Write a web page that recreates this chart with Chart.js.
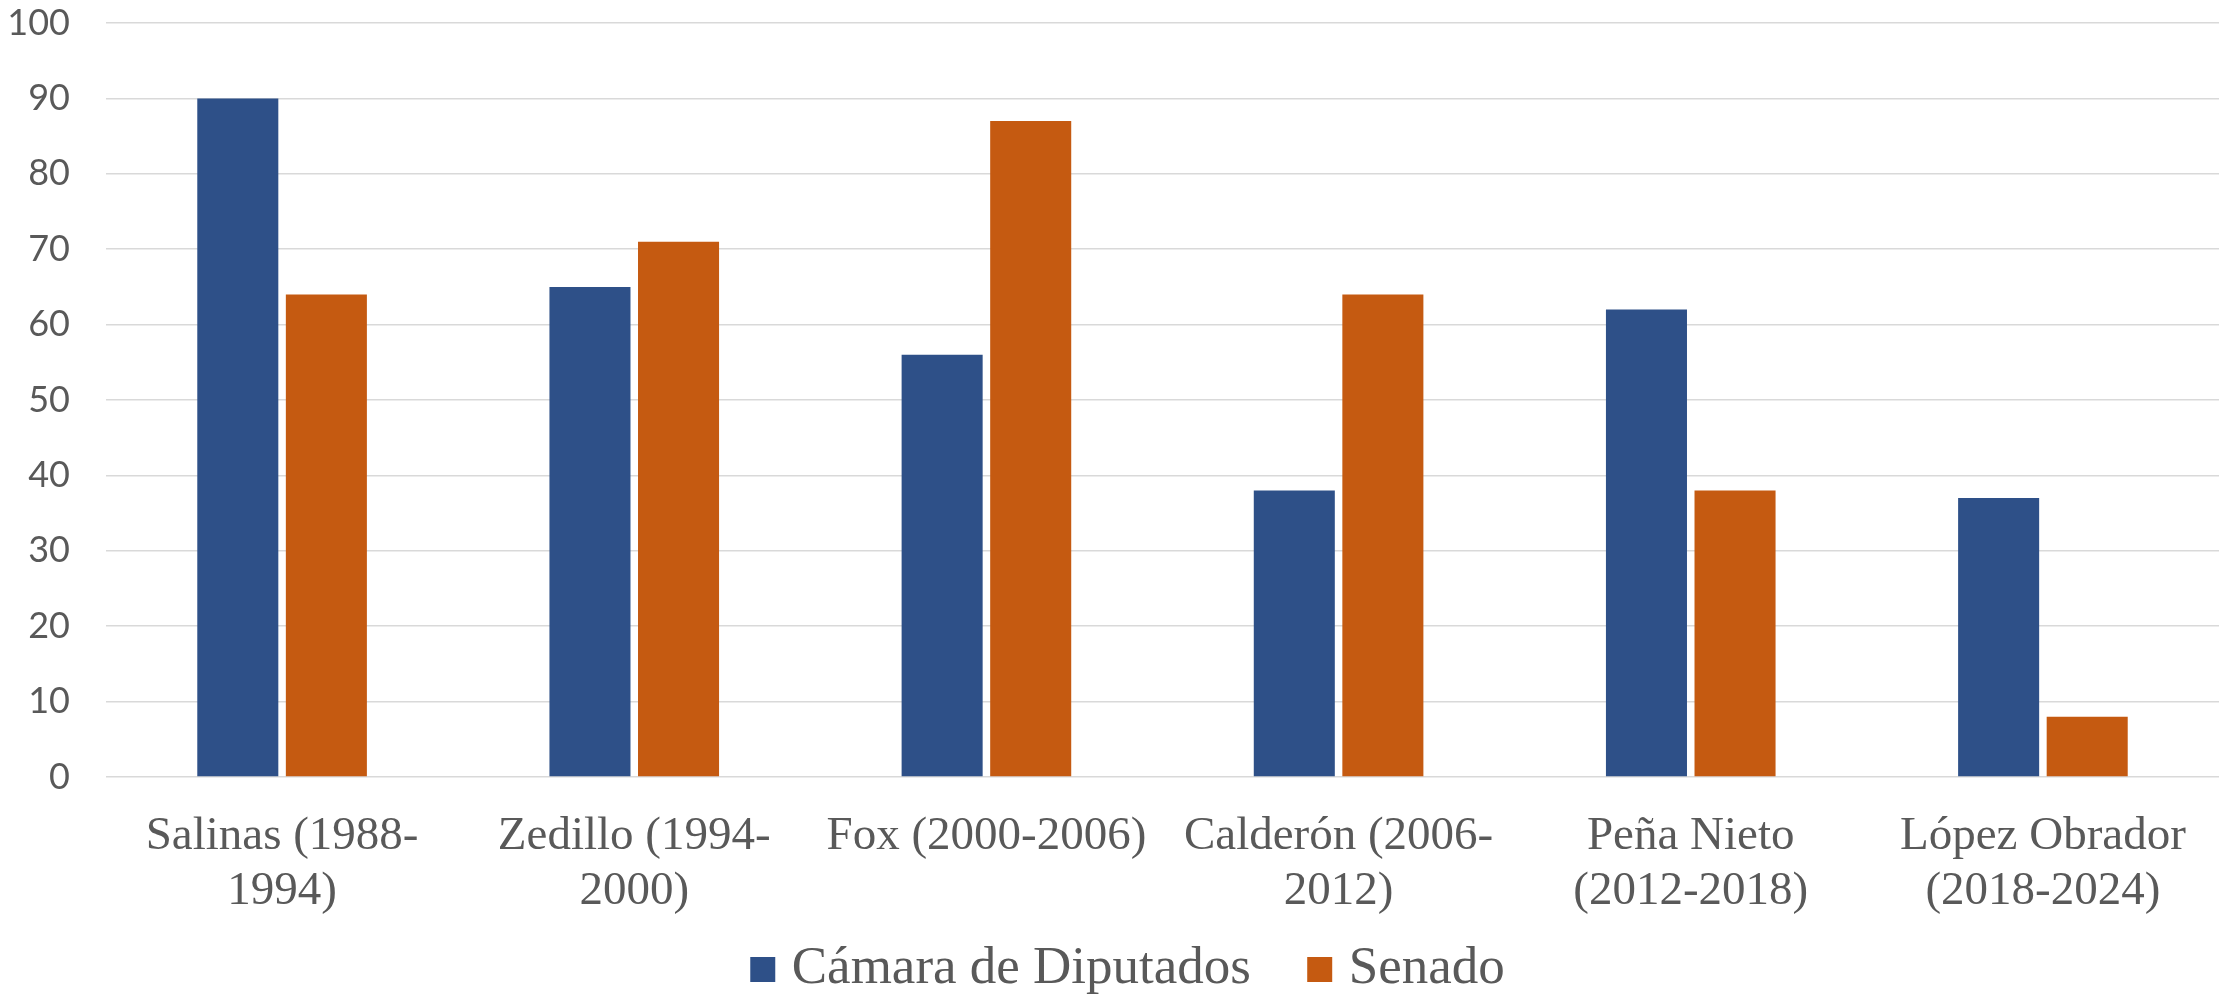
<!DOCTYPE html>
<html>
<head>
<meta charset="utf-8">
<script src="https://cdn.jsdelivr.net/npm/chart.js@4.4.0/dist/chart.umd.min.js"></script>
<style>
  html, body { margin: 0; padding: 0; background: #ffffff; }
  #wrap { width: 2223px; height: 994px; }
</style>
</head>
<body>
<div id="wrap"><canvas id="chart"></canvas></div>
<script>
// Data
const periods = [
    ['Salinas (1988-', '1994)'],
    ['Zedillo (1994-', '2000)'],
    'Fox (2000-2006)',
    ['Calderón (2006-', '2012)'],
    ['Peña Nieto', '(2012-2018)'],
    ['López Obrador', '(2018-2024)']
];
const seriesNames = ['Cámara de Diputados', 'Senado'];
const diputados = [90, 65, 56, 38, 62, 37];
const senado = [64, 71, 87, 64, 38, 8];
const yTicks = [0, 10, 20, 30, 40, 50, 60, 70, 80, 90, 100];

const textGray = '#595959';
const serif = "'Liberation Serif', 'Times New Roman', serif";

// legend sits a little right of the canvas centre in the original
const legendShift = {
    id: 'legendShift',
    afterLayout(chart) {
        chart.legend.left += 18;
        chart.legend.right += 18;
    }
};

const ctx = document.getElementById('chart').getContext('2d');
const chart = new Chart(ctx, {
    type: 'bar',
    data: {
        labels: periods,
        datasets: [{
            label: seriesNames[0],
            data: diputados,
            backgroundColor: '#2E5088',
            borderWidth: 0
        }, {
            label: seriesNames[1],
            data: senado,
            backgroundColor: '#C55A11',
            borderWidth: 0
        }]
    },
    plugins: [legendShift],
    options: {
        responsive: true,
        maintainAspectRatio: false,
        animation: false,
        categoryPercentage: 0.503,
        barPercentage: 0.915,
        layout: {
            padding: { top: 23, right: 4, left: 10, bottom: -12 }
        },
        plugins: {
            tooltip: { enabled: false },
            legend: {
                position: 'bottom',
                labels: {
                    color: textGray,
                    font: { family: serif, size: 53 },
                    usePointStyle: true,
                    pointStyle: 'rect',
                    boxWidth: 5,
                    boxHeight: 25,
                    padding: 0,
                    generateLabels: function(chart) {
                        const items = Chart.defaults.plugins.legend.labels.generateLabels(chart);
                        // keep a gap between the two entries like the original
                        items.forEach((item, i) => {
                            item.lineWidth = 0;
                            if (i < items.length - 1) item.text = item.text + '     ';
                        });
                        return items;
                    }
                }
            }
        },
        scales: {
            x: {
                grid: { display: false },
                border: { display: false },
                ticks: {
                    color: textGray,
                    font: { family: serif, size: 47, lineHeight: 1.17 },
                    padding: 24,
                    maxRotation: 0,
                    autoSkip: false
                }
            },
            y: {
                min: 0,
                max: 100,
                afterBuildTicks: function(axis) {
                    axis.ticks = yTicks.map(v => ({ value: v }));
                },
                afterFit: function(axis) {
                    axis.width = 96;
                    axis.paddingTop = 0;
                    axis.paddingBottom = 0;
                },
                grid: { color: '#D9D9D9', lineWidth: 1.5, drawTicks: false },
                border: { display: false },
                ticks: {
                    color: textGray,
                    font: { family: "'Liberation Sans Narrow', Lato, sans-serif", size: 36 },
                    padding: 36
                }
            }
        }
    }
});
</script>
</body>
</html>
